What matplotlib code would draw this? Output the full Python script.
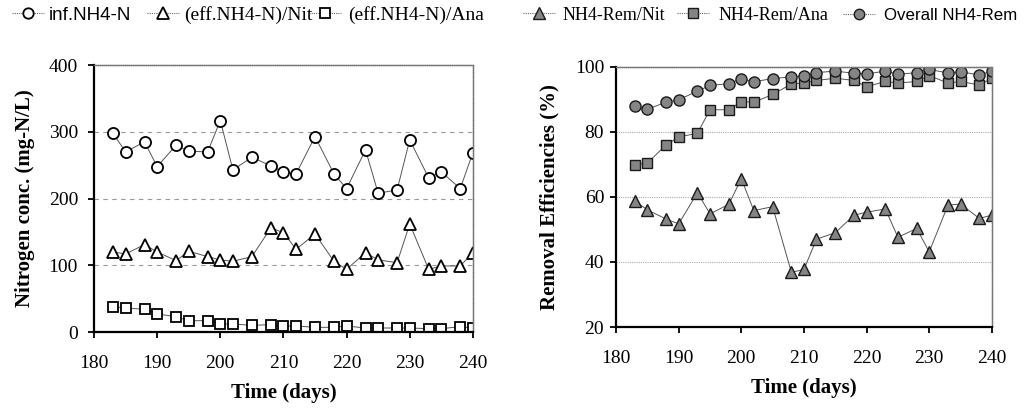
import matplotlib
matplotlib.use("Agg")
import matplotlib.pyplot as plt
from matplotlib.lines import Line2D

days = [183, 185, 188, 190, 193, 195, 198, 200, 202, 205, 208, 210,
        212, 215, 218, 220, 223, 225, 228, 230, 233, 235, 238, 240]

# left panel, mg-N/L
inf_nh4 = [298, 270, 285, 248, 280, 271, 270, 317, 243, 262, 249, 240,
           237, 293, 237, 215, 273, 208, 213, 288, 231, 240, 215, 269]
eff_nit = [120, 117, 131, 120, 107, 121, 113, 108, 106, 113, 156, 149,
           124, 147, 106, 94, 119, 108, 104, 162, 94, 99, 99, 119]
eff_ana = [38, 36, 34, 27, 23, 17, 17, 12, 12, 10, 11, 9,
           9, 7, 7, 9, 6, 6, 6, 6, 5, 5, 8, 6]

# right panel, %
rem_nit = [58.8, 56.0, 53.2, 51.7, 61.3, 54.8, 57.7, 65.6, 55.8, 57.0, 36.8, 37.7,
           47.0, 49.0, 54.4, 55.3, 56.3, 47.6, 50.3, 43.1, 57.5, 57.8, 53.4, 54.4]
rem_ana = [69.9, 70.4, 76.0, 78.4, 79.6, 86.8, 86.8, 89.3, 89.1, 91.5, 94.7, 95.0,
           95.8, 96.5, 95.8, 93.9, 95.5, 95.0, 95.5, 97.3, 95.0, 95.5, 94.4, 96.5]
rem_all = [87.8, 87.0, 89.1, 89.9, 92.5, 94.3, 94.8, 96.4, 95.4, 96.4, 96.9, 97.2,
           98.2, 98.7, 98.0, 97.8, 98.7, 97.7, 98.2, 99.2, 98.1, 98.5, 97.5, 98.7]

left_labels = ["inf.NH4-N", "(eff.NH4-N)/Nit", "(eff.NH4-N)/Ana"]
right_labels = ["NH4-Rem/Nit", "NH4-Rem/Ana", "Overall NH4-Rem"]

SERIF = "Liberation Serif"
SANS = "Liberation Sans"
plt.rcParams["font.family"] = SERIF

W, H = 1024, 415
fig = plt.figure(figsize=(W / 100, H / 100), dpi=100)
ax1 = fig.add_axes([0.0918, 0.200, 0.370, 0.643])
ax2 = fig.add_axes([0.6016, 0.212, 0.367, 0.627])

line_kw = dict(color="#555555", lw=0.7)
ms = 8
open_kw = dict(mfc="white", mec="black", mew=1.3)
gray = "#858585"
fill_kw = dict(mfc=gray, mec="#1a1a1a", mew=1.0)

ax1.plot(days, inf_nh4, marker="o", ms=ms, **open_kw, **line_kw)
ax1.plot(days, eff_nit, marker="^", ms=ms + 1, **open_kw, **line_kw)
ax1.plot(days, eff_ana, marker="s", ms=ms - 0.5, **open_kw, **line_kw)

ax2.plot(days, rem_nit, marker="^", ms=ms + 1, **fill_kw, **line_kw)
ax2.plot(days, rem_ana, marker="s", ms=ms - 0.5, **fill_kw, **line_kw)
ax2.plot(days, rem_all, marker="o", ms=ms, **fill_kw, **line_kw)

ax1.set_xlim(180, 240)
ax1.set_ylim(0, 400)
ax1.set_yticks([0, 100, 200, 300, 400])
for y in (100, 200, 300):
    ax1.axhline(y, color="#999999", lw=0.8, ls=(0, (4, 4)), zorder=0)

ax2.set_xlim(180, 240)
ax2.set_ylim(20, 100)
ax2.set_yticks([20, 40, 60, 80, 100])
for y in (40, 60, 80):
    ax2.axhline(y, color="#aaaaaa", lw=0.8, ls=(0, (1, 1)), zorder=0)

for ax in (ax1, ax2):
    ax.set_xticks([180, 190, 200, 210, 220, 230, 240])
    ax.spines["left"].set_linewidth(1.6)
    ax.spines["bottom"].set_linewidth(1.6)
    for s in ("top", "right"):
        ax.spines[s].set_color("#777777")
        ax.spines[s].set_linewidth(1.0)
        ax.spines[s].set_linestyle((0, (1, 0.5)))
    ax.tick_params(direction="out", length=4.5, width=1.3, labelsize=14)
    ax.tick_params(axis="x", pad=12)
    ax.set_xlabel("Time (days)", fontweight="bold", fontsize=15, labelpad=8)

ax1.tick_params(axis="y", pad=7)
ax2.tick_params(axis="y", pad=4)
ax1.set_ylabel("Nitrogen conc. (mg-N/L)", fontweight="bold", fontsize=15, labelpad=10)
ax2.set_ylabel("Removal Efficiencies (%)", fontweight="bold", fontsize=15, labelpad=11)


def put_legend(handle, label, x_px, size, family, y_px=15, hlen_px=32, pad_px=5):
    fs_px = size * 100 / 72
    fig.legend([handle], [label], loc="center left",
               bbox_to_anchor=(x_px / W, 1 - y_px / H), frameon=False,
               borderpad=0, borderaxespad=0, numpoints=1,
               handlelength=hlen_px / fs_px, handletextpad=pad_px / fs_px,
               prop={"family": family, "size": size})


leg_line = dict(color="#666666", lw=0.8, ls=(0, (1, 1)))
h_left = [
    Line2D([], [], marker="o", ms=ms - 0.5, **open_kw, **leg_line),
    Line2D([], [], marker="^", ms=ms + 0.5, **open_kw, **leg_line),
    Line2D([], [], marker="s", ms=ms - 1, **open_kw, **leg_line),
]
h_right = [
    Line2D([], [], marker="^", ms=ms + 0.5, **fill_kw, **leg_line),
    Line2D([], [], marker="s", ms=ms - 1, **fill_kw, **leg_line),
    Line2D([], [], marker="o", ms=ms - 0.5, **fill_kw, **leg_line),
]

put_legend(h_left[0], left_labels[0], 12, 13.5, SANS)
put_legend(h_left[1], left_labels[1], 147, 14, SERIF)
put_legend(h_left[2], left_labels[2], 309, 14, SERIF, pad_px=7)
put_legend(h_right[0], right_labels[0], 523, 13, SERIF, pad_px=8)
put_legend(h_right[1], right_labels[1], 677, 13, SERIF, pad_px=10)
put_legend(h_right[2], right_labels[2], 843, 12.2, SANS, pad_px=9)

fig.savefig("out.png", dpi=100)
